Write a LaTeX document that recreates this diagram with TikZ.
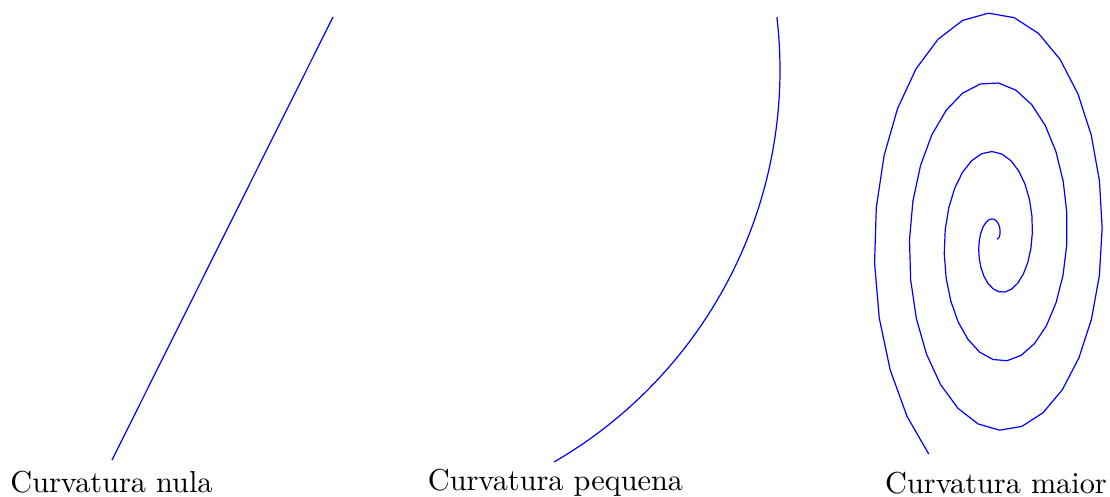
\documentclass[tikz,border=0pt]{standalone}
\begin{document}
\begin{tikzpicture}[x=0.33pt,y=-0.33pt,
  curve/.style={blue, line width=0.4pt},
  lbl/.style={anchor=base, inner sep=0pt, font=\fontsize{10}{12}\selectfont}]
\useasboundingbox (0,0) rectangle (1110,496);
% straight line
\coordinate (la) at (112,460);
\coordinate (lb) at (333,17);
\draw[curve] (la) -- (lb);
% circular arc
\draw[curve] plot[domain=6.7:-59.9, samples=120, variable=\a]
  ({327+453*cos(\a)}, {70-453*sin(\a)});
% spiral
\draw[curve] plot[domain=0:23, samples=102, variable=\t]
  ({997+5.57*\t*cos(\t r)}, {239-11.05*\t*sin(\t r)});
% labels
\node[lbl] (nula) at (111.5,492) {Curvatura nula};
\node[lbl] (pequena) at (555.5,490) {Curvatura pequena};
\node[lbl] (maior) at (996,493) {Curvatura maior};
\end{tikzpicture}
\end{document}
